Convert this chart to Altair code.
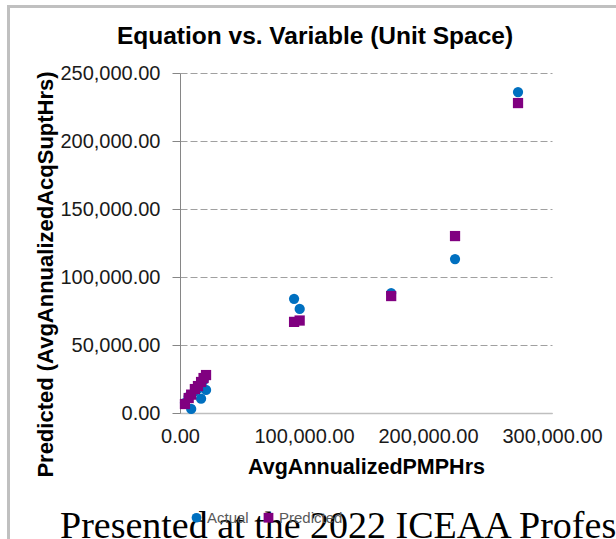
import altair as alt
import pandas as pd

# Average annualized PMP hours (x) with actual and predicted AcqSupt hours
pmp_hours = [272600, 221800, 170300, 92000, 96500,
             4000, 7000, 9000, 12000, 14500, 17000, 19000, 21000]
actual = [236000, 113200, 88200, 84000, 76500,
          7500, 12000, 3000, 16000, 18000, 10500, 24000, 17000]
predicted = [227900, 130100, 86000, 67000, 68000,
             6600, 11000, 13500, 17600, 19800, 22800, 25700, 27900]

series_names = ["Actual", "Predicted"]
series_colors = ["#0070C0", "#800080"]
series_shapes = ["circle", "square"]

x_ticks = [0, 100000, 200000, 300000]
y_ticks = [0, 50000, 100000, 150000, 200000, 250000]

rows = []
for name, vals in zip(series_names, [actual, predicted]):
    for xv, yv in zip(pmp_hours, vals):
        rows.append({"pmp": xv, "hrs": yv, "series": name})
df = pd.DataFrame(rows)
df["draw_order"] = df["series"].map({n: i for i, n in enumerate(series_names)})

FONT = "Liberation Sans"
W, H = 372, 340
PAD_L, PAD_T = 180, 73

points = alt.Chart(df).mark_point(filled=True, opacity=1, strokeWidth=0).encode(
    x=alt.X("pmp:Q",
            scale=alt.Scale(domain=[0, 300000], nice=False, zero=True),
            axis=alt.Axis(values=x_ticks, format=",.2f", grid=False, ticks=False,
                          domainColor="#BFBFBF", domainWidth=1.5,
                          labelFont=FONT, labelFontSize=20, labelColor="#1a1a1a",
                          labelPadding=13, labelFlush=False, labelOverlap=False,
                          title="AvgAnnualizedPMPHrs", titleFont=FONT,
                          titleFontSize=21.5, titleFontWeight="bold", titleColor="#000",
                          titleX=W / 2, titleY=54, titleBaseline="middle",
                          titleAnchor="middle")),
    y=alt.Y("hrs:Q",
            scale=alt.Scale(domain=[0, 250000], nice=False),
            axis=alt.Axis(values=y_ticks, format=",.2f", grid=True,
                          gridDash=[7, 3], gridColor="#A0A0A0", gridWidth=1,
                          domainColor="#868686", tickColor="#868686", tickSize=8,
                          labelFont=FONT, labelFontSize=20, labelColor="#1a1a1a",
                          labelPadding=12, labelFlush=False, labelOverlap=False,
                          title="Predicted (AvgAnnualizedAcqSuptHrs)", titleFont=FONT,
                          titleFontSize=22, titleFontWeight="bold", titleColor="#000",
                          titleX=-135, titleY=H / 2 + 31, titleAngle=270,
                          titleBaseline="middle", titleAnchor="middle")),
    color=alt.Color("series:N",
                    scale=alt.Scale(domain=series_names, range=series_colors),
                    legend=alt.Legend(title=None, orient="none", direction="horizontal",
                                      legendX=9, legendY=437,
                                      labelFont=FONT, labelFontSize=15,
                                      labelColor="#595959", labelOffset=3,
                                      columnPadding=12, symbolSize=95,
                                      symbolStrokeWidth=0)),
    shape=alt.Shape("series:N",
                    scale=alt.Scale(domain=series_names, range=series_shapes),
                    legend=None),
    order=alt.Order("draw_order:Q"),
    size=alt.value(105),
)

# Chart heading
title = alt.Chart(alt.Data(values=[{}])).mark_text(
    text="Equation vs. Variable (Unit Space)", font=FONT, fontSize=24.5,
    fontWeight="bold", color="#000", align="center", baseline="middle",
).encode(x=alt.value(315 - PAD_L), y=alt.value(37 - PAD_T))

# Outer chart frame (left and top edges)
frame_left = alt.Chart(alt.Data(values=[{}])).mark_rule(
    color="#C0C0C0", strokeWidth=3).encode(
    x=alt.value(8.5 - PAD_L), y=alt.value(5 - PAD_T), y2=alt.value(539 - PAD_T))
frame_top = alt.Chart(alt.Data(values=[{}])).mark_rule(
    color="#C0C0C0", strokeWidth=3).encode(
    x=alt.value(7 - PAD_L), x2=alt.value(616 - PAD_L), y=alt.value(6.5 - PAD_T))

# Presentation footer line
footer = alt.Chart(alt.Data(values=[{}])).mark_text(
    text="Presented at the 2022 ICEAA Professional Development & Training Workshop",
    font="Liberation Serif", fontSize=38, color="#000", align="left",
    baseline="alphabetic",
).encode(x=alt.value(60 - PAD_L), y=alt.value(538 - PAD_T))

chart = alt.layer(frame_left, frame_top, footer, points, title).properties(
    width=W, height=H,
    autosize=alt.AutoSizeParams(type="none"),
    padding={"left": PAD_L, "top": PAD_T, "right": 616 - PAD_L - W,
             "bottom": 539 - PAD_T - H},
    background="white",
).configure_view(stroke=None)

chart.save("out.html", embed_options={"renderer": "svg", "actions": False})
